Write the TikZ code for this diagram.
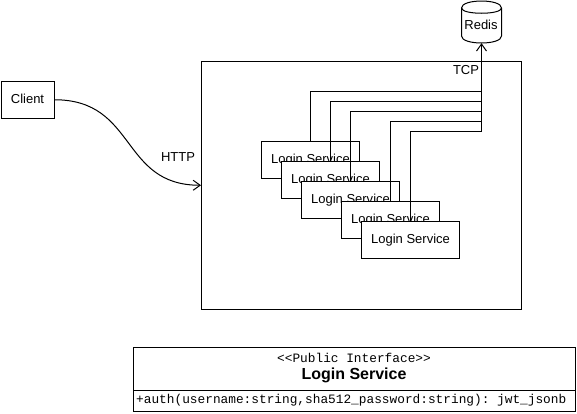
\documentclass[tikz,border=0pt]{standalone}
\usepackage{fontspec}
\setmainfont{Liberation Sans}
\setmonofont{Liberation Mono}
\usetikzlibrary{arrows.meta}
\tikzset{
  box/.style={draw=black, fill=white, line width=1pt, inner sep=0pt, font=\fontsize{13}{15}\selectfont},
  loginbox/.style={box, minimum width=98pt, minimum height=37pt},
  wire/.style={draw=black, line width=1pt},
  label/.style={font=\fontsize{13}{15}\selectfont, inner sep=0pt},
  monolabel/.style={inner sep=0pt, font=\ttfamily\fontsize{12.8}{15}\selectfont},
  barb/.style={-{Straight Barb[length=7pt, width=10pt]}},
}

\begin{document}
\begin{tikzpicture}[x=1pt, y=-1pt]
  \useasboundingbox (0,0) rectangle (577,413);
  % Client and container
  \node[box, minimum width=52.5pt, minimum height=37pt] (client) at (27.75,99.75) {};
  \node[label] (clienttext) at (27.5,99) {Client};
  \node[box, minimum width=320pt, minimum height=247.5pt] (host) at (361.5,185.25) {};
  % Redis
  \node[inner sep=0pt, minimum width=40pt, minimum height=42pt] (redis) at (481.5,22) {};
  \draw[wire, fill=white] (461.5,8) .. controls (461.5,-1.33) and (501.5,-1.33) .. (501.5,8)
    -- (501.5,36) .. controls (501.5,45.33) and (461.5,45.33) .. (461.5,36) -- cycle;
  \draw[wire] (461.5,8) .. controls (461.5,15) and (501.5,15) .. (501.5,8);
  \node[label] (redistext) at (481,24.5) {Redis};
  % Service instances
  \node[loginbox] (login1) at (310.5,160) {Login Service};
  \node[loginbox] (login2) at (330.5,180) {Login Service};
  \node[loginbox] (login3) at (350.5,200) {Login Service};
  \node[loginbox] (login4) at (390.5,220) {Login Service};
  \node[loginbox] (login5) at (410.5,240) {Login Service};
  % Connectors
  \coordinate (bus1) at (481.5,91.5);
  \coordinate (bus2) at (481.5,101.5);
  \coordinate (bus3) at (481.5,111.5);
  \coordinate (bus4) at (481.5,121.5);
  \coordinate (bus5) at (481.5,131.5);
  \draw[wire] (login1.north) |- (bus1);
  \draw[wire] (login2.north) |- (bus2);
  \draw[wire] (login3.north) |- (bus3);
  \draw[wire] (login4.north) |- (bus4);
  \draw[wire] (login5.north) |- (bus5);
  \draw[wire, barb] (bus5) -- (redis.south);
  \draw[wire, barb] (client.east) .. controls (137,99.75) and (120,185.25) .. (host.west);
  % Labels
  \node[label] (http) at (178,157) {HTTP};
  \node[label] (tcp) at (466,70) {TCP};
  % Interface box
  \node[box, minimum width=442pt, minimum height=43pt] (iface) at (354.75,369) {};
  \node[box, minimum width=442pt, minimum height=21pt] (auth) at (354.75,400.5) {};
  \node[monolabel] (stereo) at (354,358) {<{}<Public Interface>{}>};
  \node[label, font=\bfseries\fontsize{16}{18}\selectfont] (title) at (354,375.5) {Login Service};
  \node[monolabel, anchor=west] (method) at (136,400) {+auth(username:string,sha512\_password:string): jwt\_jsonb};
\end{tikzpicture}
\end{document}
